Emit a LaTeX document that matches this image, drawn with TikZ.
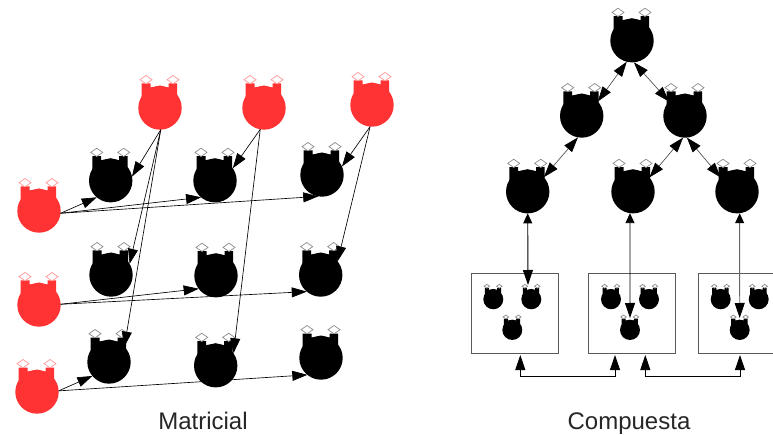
\documentclass[tikz,border=0pt]{standalone}
\usepackage{fontspec}
\setmainfont{Liberation Sans}
\usetikzlibrary{arrows.meta}
\definecolor{redc}{HTML}{FF3333}
\tikzset{
  hd/.tip={Triangle[length=15pt,width=10pt,color=black]},
  link/.style={draw=black,line width=0.65pt,-hd},
  dlink/.style={draw=black!70,line width=0.65pt,hd-hd},
  vlink/.style={draw=black,line width=0.9pt,{Triangle[length=10pt,width=9pt,color=black]}-hd},
  boxn/.style={draw=black!65,line width=1pt,rectangle,inner sep=0pt,outer sep=0pt},
  lab/.style={font=\fontsize{24}{28}\selectfont,text=black!85,inner sep=0pt,anchor=base},
  dia/.style={fill=white,line width=0.7pt},
}
\newcommand{\creature}[6]{% name,x,y,fill colour,diamond colour,scale
  \begin{scope}[shift={(#2,#3)},scale=#6]
    \fill[#4] (-18.4,-8) -- (-18.4,-24.5) -- (-9.5,-24.5) -- (-9.5,-20.5) -- (0,-22.5) -- (8.5,-20.5) -- (8.5,-24.5) -- (17,-24.5) -- (17,-8) -- cycle;
    \draw[dia,draw=#5] (-20,-28.3) -- (-14,-32.5) -- (-8,-28.3) -- (-14,-24.2) -- cycle;
    \draw[dia,draw=#5] (7,-28.3) -- (13,-32.5) -- (19,-28.3) -- (13,-24.2) -- cycle;
    \node[circle,fill=#4,inner sep=0pt,outer sep=0pt,minimum size=#6*43.4pt] (#1) at (0,0) {};
  \end{scope}}
\begin{document}
\begin{tikzpicture}[x=1pt,y=-1pt]
\useasboundingbox[fill=white] (0,0) rectangle (773,435);
% Matricial
\creature{t1}{160}{108}{redc}{redc!50}{1}
\creature{t2}{264}{108}{redc}{redc!50}{1}
\creature{t3}{372}{105}{redc}{redc!50}{1}
\creature{l1}{39}{211}{redc}{redc!50}{1}
\creature{l2}{39}{305}{redc}{redc!50}{1}
\creature{l3}{37}{392}{redc}{redc!50}{1}
\creature{a1}{110.7}{180.7}{black}{black!45}{1}
\creature{a2}{215}{180.7}{black}{black!45}{1}
\creature{a3}{322}{175}{black}{black!45}{1}
\creature{b1}{111}{275}{black}{black!45}{1}
\creature{b2}{216}{275.7}{black}{black!45}{1}
\creature{b3}{320.7}{275}{black}{black!45}{1}
\creature{c1}{109}{362}{black}{black!45}{1}
\creature{c2}{215.7}{365.7}{black}{black!45}{1}
\creature{c3}{321}{358}{black}{black!45}{1}
\draw[link] (l1.-6) -- (a1.230);
\draw[link] (l1.-6) -- (a2.230);
\draw[link] (l1.-6) -- (a3.260);
\draw[link] (l2.2) -- (b2.217);
\draw[link] (l2.2) -- (b3.230);
\draw[link] (l3.3) -- (c1.220);
\draw[link] (l3.3) -- (c3.231);
\draw[link] (t1.-88) -- (a1.11);
\draw[link] (t1.-88) -- (b1.31);
\draw[link] (t1.-88) -- (c1.45);
\draw[link] (t2.260) -- (a2.35);
\draw[link] (t2.260) -- (c2.35);
\draw[link] (t3.265) -- (a3.23);
\draw[link] (t3.265) -- (b3.39);
% Compuesta
\node[boxn,minimum width=87pt,minimum height=79pt] (bx1) at (514.5,313.5) {};
\node[boxn,minimum width=87pt,minimum height=79pt] (bx2) at (632.3,313.5) {};
\node[boxn,minimum width=76pt,minimum height=79pt] (bx3) at (736.3,313.5) {};
\creature{r0}{632}{40.7}{black}{black!45}{1}
\creature{r1}{581.7}{116}{black}{black!45}{1}
\creature{r2}{685}{116}{black}{black!45}{1}
\creature{s1}{527.7}{191.7}{black}{black!45}{1}
\creature{s2}{633}{191.7}{black}{black!45}{1}
\creature{s3}{737}{191.7}{black}{black!45}{1}
\creature{p1}{493.3}{299.3}{black}{black!45}{0.46}
\creature{p2}{531.3}{299.3}{black}{black!45}{0.46}
\creature{p3}{512.3}{330}{black}{black!45}{0.46}
\creature{q1}{611}{299.3}{black}{black!45}{0.46}
\creature{q2}{649}{299.3}{black}{black!45}{0.46}
\creature{q3}{630}{330}{black}{black!45}{0.46}
\creature{u1}{720.7}{299.3}{black}{black!45}{0.46}
\creature{u2}{758.7}{299.3}{black}{black!45}{0.46}
\creature{u3}{739.7}{330}{black}{black!45}{0.46}
\draw[dlink] (r0.256) -- (r1.42);
\draw[dlink] (r0.275) -- (r2.138);
\draw[dlink] (r1.260) -- (s1.42);
\draw[dlink] (r2.265) -- (s2.41);
\draw[dlink] (r2.275) -- (s3.139);
\coordinate (e1) at (528,285);
\coordinate (e2) at (630,318);
\coordinate (e3) at (739.7,318);
\draw[vlink] (s1.270) -- (e1);
\draw[vlink] (s2.262) -- (e2);
\draw[vlink,draw=black!60] (s3.277) -- (e3);
\coordinate (f1) at (520.3,355);
\coordinate (f2) at (615,355);
\coordinate (f3) at (645.3,355);
\coordinate (f4) at (740,355);
\draw[line width=0.9pt,hd-hd] (f1) -- ++(0,21) -| (f2);
\draw[line width=0.9pt,hd-hd] (f3) -- ++(0,21) -| (f4);
\node[lab] (m) at (203,429.5) {Matricial};
\node[lab] (k) at (629,429.5) {Compuesta};
\end{tikzpicture}
\end{document}
